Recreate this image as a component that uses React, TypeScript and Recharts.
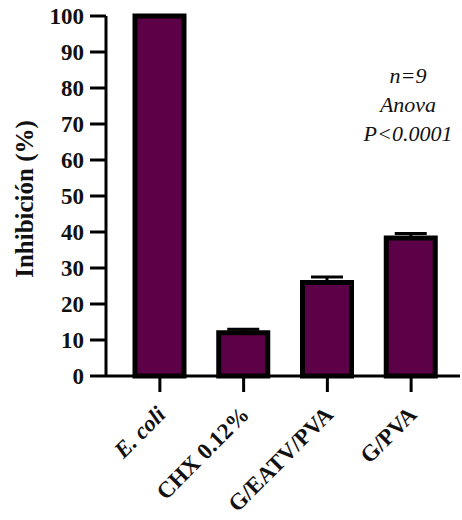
import { Bar, BarChart, ErrorBar, XAxis, YAxis } from "recharts";

const groups = ["E. coli", "CHX 0.12%", "G/EATV/PVA", "G/PVA"];
const inhibition = [100, 12, 26, 38.3];
const upperError = [0, 1, 1.5, 1.3];
const yTicks = [0, 10, 20, 30, 40, 50, 60, 70, 80, 90, 100];
const notes = ["n=9", "Anova", "P<0.0001"];

const data = groups.map((name, i) => ({
  name,
  value: inhibition[i],
  err: [0, upperError[i]]
}));

const serif = "Liberation Serif";

function GroupTick({ x, y, payload }: any) {
  const italic = payload.value === "E. coli";
  return (
    <g transform={`translate(${x + 7},${y + 22})`}>
      <text
        transform="rotate(-45)"
        textAnchor="end"
        style={{ fontFamily: serif, fontWeight: 700, fontStyle: italic ? "italic" : "normal", fontSize: 23 }}
        fill="#111"
      >
        {payload.value}
      </text>
    </g>
  );
}

export default function App() {
  return (
    <div style={{ position: "absolute", left: 0, top: 0, width: 462, height: 520, background: "#fff", fontFamily: serif }}>
      <BarChart
        width={462}
        height={520}
        data={data}
        margin={{ top: 16, right: 2, left: 0, bottom: 0 }}
        barCategoryGap={0}
      >
        <XAxis
          dataKey="name"
          height={144}
          interval={0}
          padding={{ left: 12, right: 7 }}
          tickSize={16}
          tickMargin={2}
          axisLine={{ stroke: "#000", strokeWidth: 3 }}
          tickLine={{ stroke: "#000", strokeWidth: 3 }}
          tick={<GroupTick />}
        />
        <YAxis
          width={106}
          domain={[0, 100]}
          ticks={yTicks}
          interval={0}
          tickSize={16}
          tickMargin={6}
          axisLine={{ stroke: "#000", strokeWidth: 3 }}
          tickLine={{ stroke: "#000", strokeWidth: 3 }}
          tick={{ style: { fontFamily: serif, fontWeight: 700, fontSize: 23 }, fill: "#111" }}
        />
        <Bar
          dataKey="value"
          barSize={49}
          fill="#5c0048"
          stroke="#000"
          strokeWidth={5}
          isAnimationActive={false}
        >
          <ErrorBar dataKey="err" direction="y" width={16} stroke="#000" strokeWidth={3} />
        </Bar>
      </BarChart>
      <svg
        width={462}
        height={520}
        style={{ position: "absolute", left: 0, top: 0, pointerEvents: "none" }}
      >
        <text
          x={24}
          y={199}
          transform="rotate(-90 24 199)"
          textAnchor="middle"
          dominantBaseline="central"
          style={{ fontFamily: serif, fontWeight: 700, fontSize: 25 }}
          fill="#111"
        >
          Inhibición (%)
        </text>
        {notes.map((line, i) => (
          <text
            key={line}
            x={408}
            y={83 + i * 29}
            textAnchor="middle"
            style={{ fontFamily: serif, fontStyle: "italic", fontSize: 22 }}
            fill="#111"
          >
            {line}
          </text>
        ))}
      </svg>
    </div>
  );
}
